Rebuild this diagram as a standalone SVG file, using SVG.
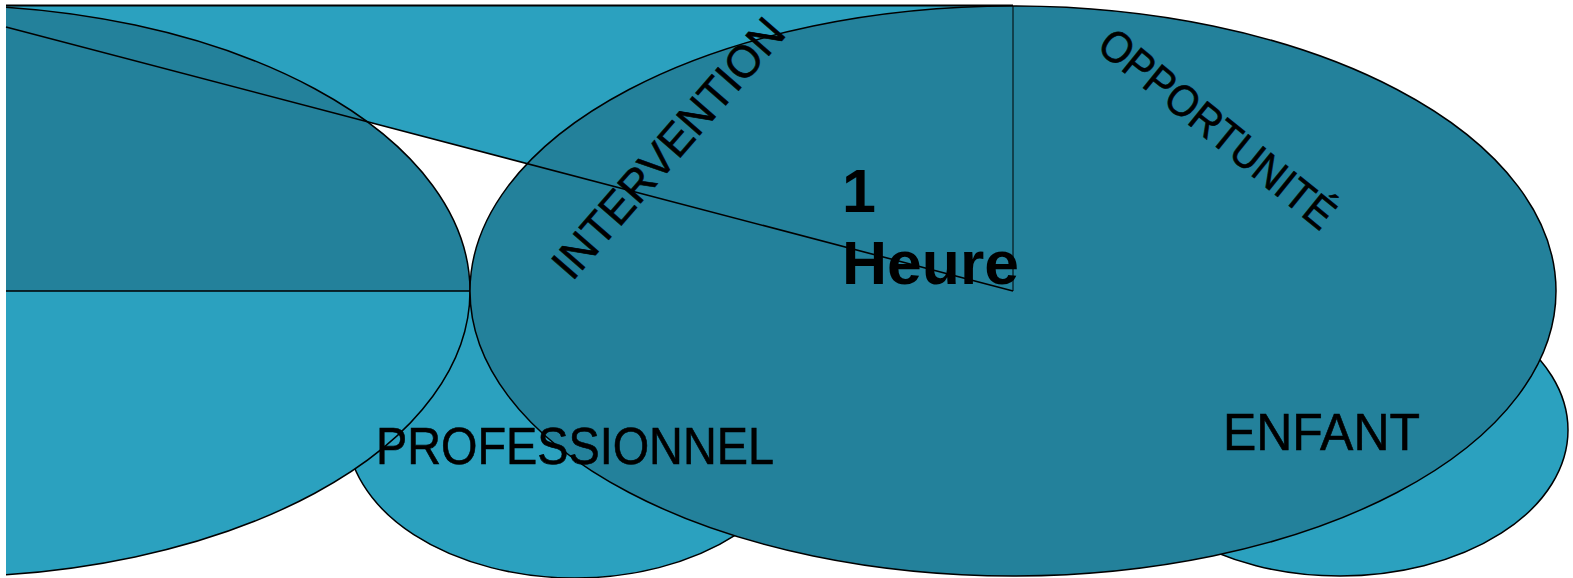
<svg xmlns="http://www.w3.org/2000/svg" width="1573" height="578" viewBox="0 0 1573 578">
<style>
.light{fill:#2ba1bf}
.dark{fill:#23819b}
.edge{fill:none;stroke:#000;stroke-width:1.5}
.hand{font-family:"Liberation Sans","DejaVu Sans",sans-serif;font-size:52px;fill:#000;stroke:#000;stroke-width:0.6}
.bold{font-family:"Liberation Sans",Arial,sans-serif;font-weight:bold;font-size:61px;fill:#000}
</style>
<defs>
<clipPath id="clipLeft"><rect x="6" y="0" width="1567" height="578"/></clipPath>
</defs>
<rect width="1573" height="578" fill="#fff"/>
<g id="sector-top">
<polygon class="light" points="6,5.5 1013,5.5 1013,291 6,27"/>
<line x1="6" y1="5.5" x2="1013" y2="5.5" stroke="#000" stroke-width="2"/>
</g>
<g id="ellipse-mid">
<ellipse class="light" cx="575" cy="430" rx="228" ry="148" stroke="#000" stroke-width="1.5"/>
</g>
<g id="ellipse-right">
<ellipse class="light" cx="1340" cy="430" rx="228" ry="146" stroke="#000" stroke-width="1.5"/>
</g>
<g id="left-pie" clip-path="url(#clipLeft)">
<path class="dark" d="M-60,291 L-60,5 A530,286 0 0 1 470,291 Z"/>
<path class="light" d="M-60,291 L470,291 A530,286 0 0 1 -60,577 Z"/>
<path class="edge" d="M-60,5 A530,286 0 0 1 -60,577" stroke-width="1.8"/>
<line x1="6" y1="291" x2="470" y2="291" stroke="#000" stroke-width="1.5"/>
</g>
<g id="ellipse-main">
<ellipse class="dark" cx="1013" cy="291" rx="543" ry="285" stroke="#000" stroke-width="1.5"/>
</g>
<g id="connectors">
<line x1="6" y1="27" x2="1013" y2="291" stroke="#000" stroke-width="1.6"/>
<line x1="1013" y1="6" x2="1013" y2="291" stroke="#000" stroke-width="1"/>
</g>
<g id="labels">
<text class="hand" transform="translate(667,147) rotate(-49)" text-anchor="middle" dy="17" textLength="328" lengthAdjust="spacingAndGlyphs" style="font-size:45px">INTERVENTION</text>
<text class="hand" transform="translate(1218,128) rotate(39)" text-anchor="middle" dy="16" textLength="290" lengthAdjust="spacingAndGlyphs" style="font-size:44px">OPPORTUNITÉ</text>
<text class="hand" x="376" y="464" textLength="398" lengthAdjust="spacingAndGlyphs">PROFESSIONNEL</text>
<text class="hand" x="1223" y="450" textLength="197" lengthAdjust="spacingAndGlyphs">ENFANT</text>
<text class="bold" x="842" y="212">1</text>
<text class="bold" x="842" y="284" textLength="177" lengthAdjust="spacingAndGlyphs">Heure</text>
</g>
</svg>
